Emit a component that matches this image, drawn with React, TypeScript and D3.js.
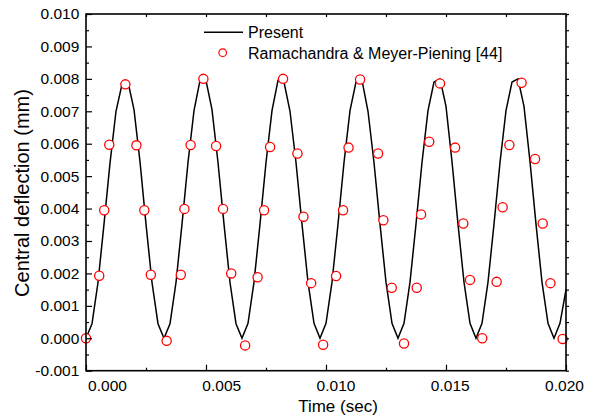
import React, { useEffect, useRef } from 'react';
import * as d3 from 'd3';

const presentStep = 0.00025;
const presentValues = [
  0.0, 0.00045, 0.00172, 0.00352, 0.0054, 0.007, 0.00783, 0.0079, 0.00705, 0.00545, 0.00352, 0.00172, 0.00045,
  0.0, 0.00045, 0.00172, 0.00352, 0.00542, 0.00702, 0.00795, 0.00795, 0.00705, 0.00542, 0.00352, 0.00172, 0.00045,
  0.0, 0.00046, 0.00173, 0.00352, 0.00542, 0.00702, 0.00795, 0.0079, 0.007, 0.00542, 0.00352, 0.00173, 0.00046,
  0.0, 0.00046, 0.00173, 0.00352, 0.00542, 0.00702, 0.0079, 0.00795, 0.007, 0.00542, 0.00352, 0.00173, 0.00046,
  0.0, 0.00046, 0.00173, 0.00352, 0.00542, 0.00702, 0.0079, 0.008, 0.00715, 0.00545, 0.00352, 0.00173, 0.00046,
  0.0, 0.00046, 0.00173, 0.00352, 0.00542, 0.00702, 0.0079, 0.008, 0.00715, 0.00545, 0.00352, 0.00173, 0.00046,
  0.0, 0.00046, 0.0015,
];

// Ramachandra & Meyer-Piening [44]
const refTimes = [
  0.0, 0.00055, 0.00076, 0.00097, 0.00164, 0.0021, 0.00243, 0.0027,
  0.00336, 0.00395, 0.0041, 0.00436, 0.00489, 0.00542, 0.00571, 0.00605,
  0.00663, 0.00715, 0.00742, 0.00767, 0.00821, 0.00881, 0.00906, 0.00938,
  0.00988, 0.01042, 0.01071, 0.01094, 0.01142, 0.01217, 0.01239, 0.01274,
  0.01325, 0.01378, 0.01396, 0.0143, 0.01475, 0.01538, 0.01572, 0.016,
  0.01651, 0.01711, 0.01736, 0.01764, 0.01815, 0.01871, 0.01903, 0.01935,
  0.01986,
];
const refValues = [
  0.0, 0.00193, 0.00395, 0.00597, 0.00783, 0.00595, 0.00395, 0.00196,
  -0.00008, 0.00196, 0.00399, 0.00596, 0.008, 0.00593, 0.00399, 0.002,
  -0.00022, 0.00188, 0.00395, 0.0059, 0.008, 0.0057, 0.00375, 0.0017,
  -0.0002, 0.00192, 0.00395, 0.00588, 0.00798, 0.0057, 0.00364, 0.00156,
  -0.00016, 0.00156, 0.00382, 0.00606, 0.00786, 0.00588, 0.00354, 0.0018,
  0.0, 0.00174, 0.00404, 0.00596, 0.00788, 0.00553, 0.00354, 0.0017,
  -0.00002,
];

const xTicks = [0, 0.005, 0.01, 0.015, 0.02];
const xMinorTicks = [0.0025, 0.0075, 0.0125, 0.0175];
const yTicks = [-0.001, 0, 0.001, 0.002, 0.003, 0.004, 0.005, 0.006, 0.007, 0.008, 0.009, 0.01];
const yMinorTicks = [-0.0005, 0.0005, 0.0015, 0.0025, 0.0035, 0.0045, 0.0055, 0.0065, 0.0075, 0.0085, 0.0095];

const W = 597;
const H = 418;
const left = 86, right = 566, top = 14, bottom = 370.7;
const font = "'Liberation Sans', Arial, sans-serif";

export default function App() {
  const ref = useRef<SVGSVGElement>(null);

  useEffect(() => {
    const svg = d3.select(ref.current);
    svg.selectAll('*').remove();

    const x = d3.scaleLinear().domain([0, 0.02]).range([left, right]);
    const y = d3.scaleLinear().domain([-0.001, 0.01]).range([bottom, top]);
    // tick labels in the original sit on a slightly narrower span than the ticks
    const xLabel = d3.scaleLinear().domain([0, 0.02]).range([107, 564]);
    const fmt = (v: d3.NumberValue) => (+v).toFixed(3);

    const present = presentValues.map((v, i) => ({ t: i * presentStep, v }));
    const ref44 = refTimes.map((t, i) => ({ t, v: refValues[i] }));

    // data
    svg.append('path')
      .datum(present)
      .attr('fill', 'none')
      .attr('stroke', '#000')
      .attr('stroke-width', 1.5)
      .attr('d', d3.line<{ t: number; v: number }>().x(d => x(d.t)).y(d => y(d.v)));

    svg.selectAll('.pt')
      .data(ref44)
      .enter()
      .append('circle')
      .attr('class', 'pt')
      .attr('cx', d => x(d.t))
      .attr('cy', d => y(d.v))
      .attr('r', 4.6)
      .attr('fill', '#fff')
      .attr('stroke', '#ff0000')
      .attr('stroke-width', 1.3);

    // bottom axis ticks (inward)
    const tickAxis = (g: d3.Selection<SVGGElement, unknown, null, undefined>) =>
      g.call(s => s.select('.domain').remove()).selectAll('line').attr('stroke-width', 1.2);

    svg.append('g')
      .attr('transform', `translate(0,${bottom})`)
      .call(d3.axisBottom(x).tickValues(xTicks).tickSize(-6).tickFormat(() => ''))
      .call(tickAxis);
    svg.append('g')
      .attr('transform', `translate(0,${bottom})`)
      .call(d3.axisBottom(x).tickValues(xMinorTicks).tickSize(-3).tickFormat(() => ''))
      .call(tickAxis);
    svg.append('g')
      .attr('transform', `translate(0,${bottom})`)
      .call(d3.axisBottom(xLabel).tickValues(xTicks).tickSize(0).tickPadding(9.3).tickFormat(fmt))
      .call(g => g.select('.domain').remove())
      .call(g => g.selectAll('text').attr('font-family', font).attr('font-size', 15.5).attr('fill', '#000'));

    // top axis ticks
    svg.append('g')
      .attr('transform', `translate(0,${top})`)
      .call(d3.axisTop(x).tickValues([...xTicks, ...xMinorTicks]).tickSize(-3).tickFormat(() => ''))
      .call(tickAxis);

    // left axis
    svg.append('g')
      .attr('transform', `translate(${left},0)`)
      .call(d3.axisLeft(y).tickValues(yTicks).tickSize(-6).tickPadding(6.7).tickFormat(fmt))
      .call(tickAxis)
      .call(g => g.selectAll('text').attr('font-family', font).attr('font-size', 15.5).attr('fill', '#000'));
    svg.append('g')
      .attr('transform', `translate(${left},0)`)
      .call(d3.axisLeft(y).tickValues(yMinorTicks).tickSize(-3).tickFormat(() => ''))
      .call(tickAxis);

    // right axis ticks (outward)
    svg.append('g')
      .attr('transform', `translate(${right},0)`)
      .call(d3.axisRight(y).tickValues([...yTicks, ...yMinorTicks]).tickSize(3).tickFormat(() => ''))
      .call(tickAxis);

    // frame
    svg.append('rect')
      .attr('x', left)
      .attr('y', top)
      .attr('width', right - left)
      .attr('height', bottom - top)
      .attr('fill', 'none')
      .attr('stroke', '#000')
      .attr('stroke-width', 1.6);

    // axis titles
    svg.append('text')
      .attr('x', 338)
      .attr('y', 412)
      .attr('text-anchor', 'middle')
      .attr('font-family', font)
      .attr('font-size', 17)
      .text('Time (sec)');

    svg.append('text')
      .attr('transform', 'translate(29,193) rotate(-90)')
      .attr('text-anchor', 'middle')
      .attr('font-family', font)
      .attr('font-size', 20)
      .text('Central deflection (mm)');

    // legend
    const legend = svg.append('g').attr('font-family', font).attr('font-size', 16);
    legend.append('line')
      .attr('x1', 204).attr('x2', 243)
      .attr('y1', 32.3).attr('y2', 32.3)
      .attr('stroke', '#000')
      .attr('stroke-width', 1.5);
    legend.append('text').attr('x', 248).attr('y', 37.8).text('Present');
    legend.append('circle')
      .attr('cx', 222.7).attr('cy', 52.7).attr('r', 3.8)
      .attr('fill', '#fff')
      .attr('stroke', '#ff0000')
      .attr('stroke-width', 1.2);
    legend.append('text').attr('x', 248).attr('y', 58.5).text('Ramachandra & Meyer-Piening [44]');
  }, []);

  return (
    <svg
      ref={ref}
      width={W}
      height={H}
      style={{ position: 'absolute', left: 0, top: 0, background: '#fff' }}
    />
  );
}
